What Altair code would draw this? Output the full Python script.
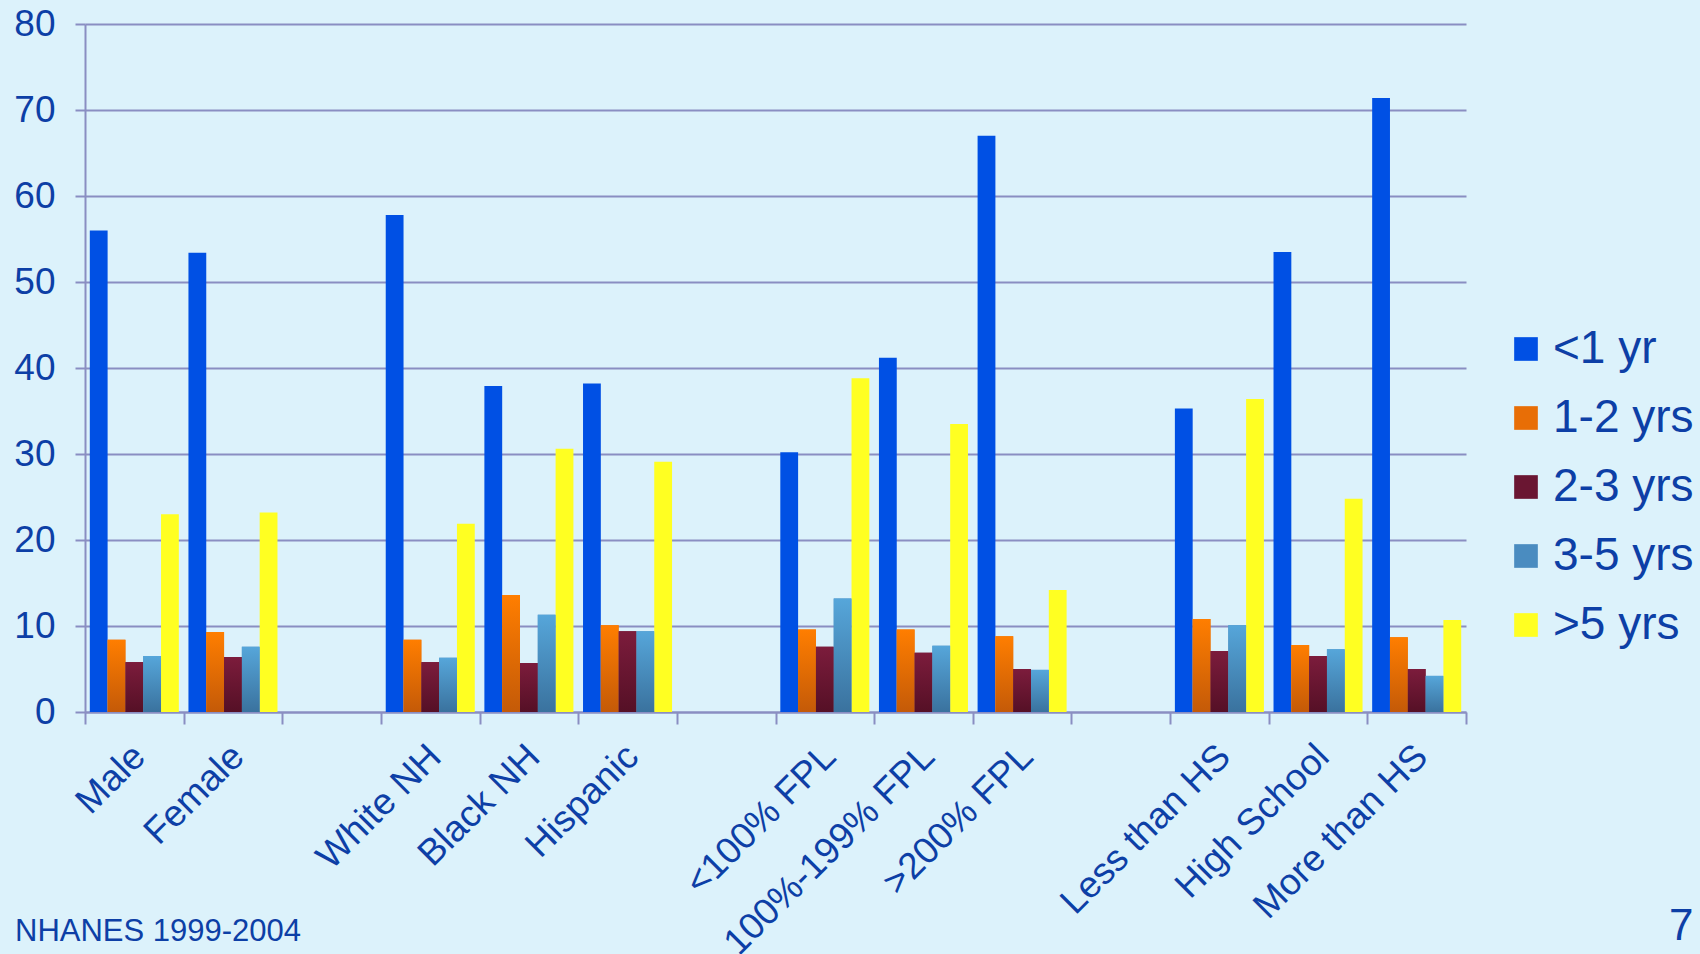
import altair as alt
import pandas as pd

categories = ["Male", "Female", "g1", "White NH", "Black NH", "Hispanic", "g2",
              "<100% FPL", "100%-199% FPL", ">200% FPL", "g3",
              "Less than HS", "High School", "More than HS"]
groups = ["Male", "Female", "White NH", "Black NH", "Hispanic",
          "<100% FPL", "100%-199% FPL", ">200% FPL",
          "Less than HS", "High School", "More than HS"]
series = ["<1 yr", "1-2 yrs", "2-3 yrs", "3-5 yrs", ">5 yrs"]
lt1 = [56.0, 53.4, 57.8, 37.9, 38.2, 30.2, 41.2, 67.0, 35.3, 53.5, 71.4]
y1_2 = [8.4, 9.3, 8.4, 13.6, 10.1, 9.6, 9.6, 8.8, 10.8, 7.8, 8.7]
y2_3 = [5.8, 6.4, 5.8, 5.7, 9.4, 7.6, 6.9, 5.0, 7.1, 6.5, 5.0]
y3_5 = [6.5, 7.6, 6.3, 11.3, 9.4, 13.2, 7.7, 4.9, 10.1, 7.3, 4.2]
gt5 = [23.0, 23.2, 21.9, 30.6, 29.1, 38.8, 33.5, 14.2, 36.4, 24.8, 10.7]

rows = []
for s, vals in zip(series, [lt1, y1_2, y2_3, y3_5, gt5]):
    for g, v in zip(groups, vals):
        rows.append({"cat": g, "series": s, "value": v})
df = pd.DataFrame(rows)

TXT = "#0d3fa6"
GRID = "#8a8ec2"
FONT = "Liberation Sans"
solid = ["#0050e4", "#e86e06", "#6a1632", "#4a8cc0", "#ffff22"]

x_enc = alt.X("cat:N", sort=categories, title=None,
              scale=alt.Scale(domain=categories, paddingInner=0, paddingOuter=0),
              axis=alt.Axis(labelExpr="indexof(['g1','g2','g3'], datum.value) >= 0 ? '' : datum.value",
                            labelAngle=315, labelAlign="right", labelBaseline="top",
                            labelFontSize=37, labelColor=TXT, labelFont=FONT,
                            labelPadding=14, labelOffset=-8, labelLimit=600,
                            tickBand="extent", tickSize=12,
                            tickColor=GRID, tickWidth=2, domainColor=GRID, domainWidth=2,
                            grid=False, labelOverlap=False))
xo_enc = alt.XOffset("series:N", sort=series,
                     scale=alt.Scale(domain=series, paddingInner=0, paddingOuter=0.27))
y_enc = alt.Y("value:Q", title=None,
              scale=alt.Scale(domain=[0, 80], nice=False),
              axis=alt.Axis(values=list(range(0, 81, 10)), labelFontSize=37, labelColor=TXT,
                            labelFont=FONT, labelPadding=20, tickSize=10, tickColor=GRID,
                            tickWidth=2, gridColor=GRID, gridWidth=2, gridOpacity=1,
                            domainColor=GRID, domainWidth=2))

base = alt.Chart(df).mark_bar().encode(
    x=x_enc, xOffset=xo_enc, y=y_enc,
    color=alt.Color("series:N", sort=series,
                    scale=alt.Scale(domain=series, range=solid),
                    legend=alt.Legend(title=None, orient="none", legendX=1418, legendY=302,
                                      symbolType="square", symbolSize=560, symbolStrokeWidth=0,
                                      symbolOpacity=1,
                                      labelFontSize=46, labelFont=FONT, labelColor=TXT,
                                      labelOffset=4, rowPadding=23, labelLimit=400))
)

grads = {
    "1-2 yrs": ("#ff7e00", "#c45a08"),
    "2-3 yrs": ("#7c1c3c", "#551026"),
    "3-5 yrs": ("#56a6da", "#3a729e"),
}
layers = [base]
for s, (top, bot) in grads.items():
    g = alt.Gradient(gradient="linear", x1=0, x2=0, y1=0, y2=1,
                     stops=[alt.GradientStop(color=top, offset=0),
                            alt.GradientStop(color=bot, offset=1)])
    layers.append(
        alt.Chart(df).transform_filter(alt.datum.series == s)
        .mark_bar(fill=g).encode(x=x_enc, xOffset=xo_enc, y=y_enc)
    )

note = alt.Chart(pd.DataFrame({"t": ["NHANES 1999-2004"]})).mark_text(
    align="left", baseline="alphabetic", fontSize=31, font=FONT, color=TXT
).encode(text="t:N", x=alt.value(-70), y=alt.value(917))
page = alt.Chart(pd.DataFrame({"t": ["7"]})).mark_text(
    align="left", baseline="alphabetic", fontSize=44, font=FONT, color=TXT
).encode(text="t:N", x=alt.value(1584), y=alt.value(916))

chart = alt.layer(*layers, note, page).properties(
    width=1381, height=688,
    autosize=alt.AutoSizeParams(type="none"),
    padding={"left": 85, "top": 24, "right": 234, "bottom": 242},
    background="#dcf2fb",
).configure_view(stroke=None)

chart.save("out.html", embed_options={"renderer": "svg", "actions": False})
